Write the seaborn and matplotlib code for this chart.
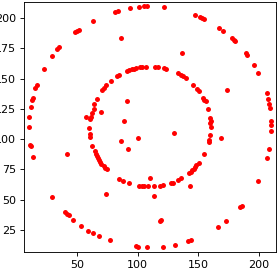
import matplotlib
matplotlib.use("Agg")
import matplotlib.pyplot as plt
import seaborn as sns

# points, grouped by ring
outer_x = [10.4, 10.6, 11.8, 12.9, 13.4, 15.6, 16.7, 22.5, 29.4, 33.7, 35.1, 48.6, 50.0, 51.4,
           63.2, 81.1, 83.6, 93.7, 100.9, 105.5, 107.8, 121.5, 147.4, 151.7, 153.4, 155.0,
           167.2, 170.5, 178.1, 179.3, 180.4, 189.7, 190.3, 196.0, 199.6, 206.5, 207.6, 208.7,
           209.2, 210.1, 210.3, 210.1, 208.7, 206.5, 199.3, 185.9, 184.7, 172.7, 166.3, 144.1,
           141.3, 130.6, 121.0, 108.0, 100.1, 98.7, 77.2, 67.9, 63.4, 59.3, 53.5, 46.7, 43.2,
           41.7, 39.9, 29.4, 13.4, 12.0, 11.2]
outer_y = [110.2, 118.4, 126.3, 132.7, 134.1, 142.0, 145.0, 158.0, 168.7, 174.5, 175.8, 188.7,
           189.8, 190.6, 198.0, 205.4, 206.3, 208.7, 209.6, 210.1, 210.1, 209.6, 203.0, 201.1,
           200.3, 199.4, 192.3, 189.8, 183.5, 182.1, 181.0, 171.2, 169.8, 161.3, 154.9, 137.9,
           132.9, 129.1, 125.5, 114.8, 111.8, 106.9, 91.7, 84.1, 65.1, 44.6, 43.5, 32.2, 27.5,
           16.3, 15.4, 12.4, 10.7, 10.5, 10.7, 11.3, 16.3, 20.1, 22.3, 24.2, 28.0, 33.2, 36.9,
           37.9, 39.6, 51.9, 85.5, 94.0, 95.0]

inner_x = [102.1, 91.0, 93.2, 95.1, 97.0, 98.7, 83.3, 84.7, 77.8, 73.9, 72.0, 70.6, 66.3, 64.3,
           64.3, 62.1, 61.6, 61.0, 60.1, 60.7, 61.0, 62.4, 64.6, 65.4, 66.3, 67.1, 67.9, 69.0,
           70.0, 72.0, 73.4, 74.5, 84.9, 87.7, 93.2, 101.0, 103.6, 105.5, 108.3, 113.5, 118.7,
           121.2, 127.3, 129.0, 133.6, 135.6, 142.7, 143.8, 145.1, 146.3, 147.4, 148.4, 150.4,
           155.0, 158.7, 159.2, 160.0, 160.3, 159.7, 160.3, 159.7, 158.1, 156.2, 155.0, 154.2,
           150.7, 149.3, 146.0, 139.7, 137.5, 135.8, 133.1, 123.2, 121.5, 116.6, 114.6, 107.2,
           103.9]
inner_y = [159.5, 156.0, 156.8, 157.6, 158.2, 158.8, 151.9, 152.7, 148.1, 144.5, 142.0, 140.7,
           133.5, 129.4, 125.3, 121.4, 118.4, 116.8, 109.4, 104.4, 101.6, 94.5, 89.8, 87.9, 86.3,
           84.7, 83.0, 81.4, 79.7, 77.7, 76.4, 75.3, 66.8, 65.7, 63.5, 61.4, 61.0, 61.0, 60.8,
           60.8, 61.6, 61.8, 63.5, 64.0, 66.5, 67.6, 72.0, 73.1, 74.4, 75.6, 76.9, 78.3, 80.5,
           87.4, 97.3, 98.9, 103.6, 110.4, 113.5, 115.1, 117.3, 125.0, 131.1, 132.1, 133.8,
           139.9, 141.5, 145.0, 150.2, 151.9, 153.3, 154.7, 158.2, 158.8, 159.6, 159.9, 159.9,
           159.6]

noise_x = [86.3, 57.4, 70.0, 91.5, 88.5, 136.4, 173.5, 130.3, 41.5, 73.9, 86.3, 91.8, 100.7,
           168.8, 110.0, 113.3, 143.2, 119.3, 118.5]
noise_y = [184.0, 118.1, 122.6, 131.9, 114.6, 171.2, 140.9, 104.8, 87.6, 54.2, 98.7, 91.5, 100.8,
           101.1, 67.8, 53.3, 61.6, 33.2, 31.9]

xs = outer_x + inner_x + noise_x
ys = outer_y + inner_y + noise_y

fig = plt.figure(figsize=(277 / 80, 268 / 80), dpi=80)
ax = fig.add_axes([24 / 277, 16 / 268, 252 / 277, 250 / 268])
sns.scatterplot(x=xs, y=ys, color="red", s=20, linewidth=0, ax=ax)
ax.set_xlim(6.3, 214.2)
ax.set_ylim(6.6, 213.4)
ax.set_xticks([50, 100, 150, 200])
ax.set_yticks([25, 50, 75, 100, 125, 150, 175, 200])

fig.savefig("out.png", dpi=80)
